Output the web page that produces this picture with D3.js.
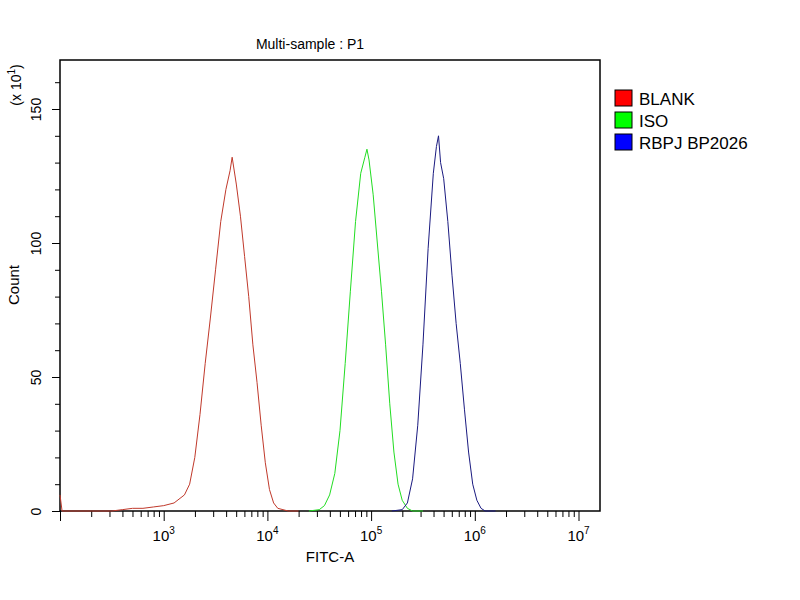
<!DOCTYPE html><html><head><script src="https://cdn.jsdelivr.net/npm/d3@7"></script>
<style>body{margin:0;background:#fff}text{font-family:"Liberation Sans",Arial,sans-serif;fill:#000}</style></head><body><svg id="c" width="800" height="600"></svg>
<script>
const seriesNames=["BLANK","ISO","RBPJ BP2026"];
const colors=["#c0392b","#22dd22","#1a1a80"];
const legendColors=["#ff0000","#00ff00","#0000ff"];
const blankLogX=[2.0,2.02,2.5,2.6,2.7,2.8,2.9,3.0,3.1,3.2,3.25,3.3,3.35,3.4,3.45,3.5,3.55,3.6,3.64,3.66,3.7,3.74,3.78,3.82,3.86,3.9,3.94,3.98,4.02,4.06,4.1,4.15,4.2,4.3];
const blankY=[6,0,0,0.5,1,1,1.5,2,3,6,10,20,36,55,72,90,108,120,127,132,122,110,95,80,62,48,32,18,8,3,1,0.5,0,0];
const isoLogX=[4.4,4.5,4.55,4.6,4.65,4.7,4.75,4.8,4.85,4.9,4.94,4.96,4.98,5.02,5.06,5.1,5.14,5.18,5.22,5.26,5.3,5.35,5.4,5.5];
const isoY=[0,0.5,2,6,14,30,55,82,108,126,132,135,131,118,100,82,62,40,22,10,4,1,0,0];
const rbpjLogX=[5.2,5.3,5.35,5.4,5.45,5.5,5.55,5.6,5.63,5.65,5.67,5.7,5.74,5.78,5.82,5.86,5.9,5.94,5.98,6.02,6.06,6.1,6.2];
const rbpjY=[0,0.5,3,12,32,62,98,126,136,140,130,124,108,88,70,55,38,22,10,4,1,0,0];
const yTicks=[0,50,100,150];
const xTicks=[3,4,5,6,7];

const svg=d3.select("#c");
const L=60,R=600,T=60,B=511;
const x=d3.scaleLog().domain([100,Math.pow(10,2+(R-L)/103.7)]).range([L,R]);
const y=d3.scaleLinear().domain([0,(B-T)/2.68]).range([B,T]);
const g=svg.append("g");
g.append("rect").attr("x",L).attr("y",T).attr("width",R-L).attr("height",B-T).attr("fill","none").attr("stroke","#000").attr("stroke-width",1.5);
// y axis
const ya=d3.axisLeft(y).tickValues(d3.range(0,170,10)).tickSize(5).tickFormat(d=>yTicks.includes(d)?d:"");
const yg=g.append("g").attr("transform",`translate(${L},0)`).call(ya);
yg.select(".domain").remove();
yg.selectAll(".tick line").attr("x2",d=>yTicks.includes(d)?-8:-5);
yg.selectAll(".tick text").attr("transform",function(d){return `rotate(-90,-14,0)`}).attr("x",-14).attr("dy","0.35em").attr("dx",0).attr("text-anchor","middle").attr("y",-2).style("font-size","14px");
yg.selectAll(".tick text").attr("transform",null).each(function(d){d3.select(this).attr("x",null).attr("y",null).attr("dy",null).attr("transform",`translate(-19,${0}) rotate(-90)`);});
// x axis
const minor=[];for(let e=2;e<7.3;e++)for(let k=1;k<10;k++){const v=k*Math.pow(10,e);if(v>=100&&v<=x.domain()[1])minor.push(v);}
const xa=d3.axisBottom(x).tickValues(minor).tickSize(6).tickFormat("");
const xg=g.append("g").attr("transform",`translate(0,${B})`).call(xa);
xg.select(".domain").remove();
xg.selectAll(".tick line").attr("y2",d=>Math.abs(Math.log10(d)-Math.round(Math.log10(d)))<1e-9?10:6);
xTicks.forEach(e=>{const t=g.append("text").attr("x",x(Math.pow(10,e))).attr("y",B+30).attr("text-anchor","middle").style("font-size","15px");
t.append("tspan").text("10");t.append("tspan").attr("dy",-7).style("font-size","10px").text(e);});
// curves
const line=d3.line().x(d=>x(Math.pow(10,d[0]))).y(d=>y(d[1])).curve(d3.curveLinear);
[[blankLogX,blankY],[isoLogX,isoY],[rbpjLogX,rbpjY]].forEach((s,i)=>{
 g.append("path").datum(s[0].map((v,j)=>[v,s[1][j]])).attr("d",line).attr("fill","none").attr("stroke",colors[i]).attr("stroke-width",1);
});
// texts
svg.append("text").attr("x",310).attr("y",49).attr("text-anchor","middle").style("font-size","14px").text("Multi-sample : P1");
svg.append("text").attr("x",330).attr("y",562).attr("text-anchor","middle").style("font-size","15px").text("FITC-A");
svg.append("text").attr("transform","translate(19,285) rotate(-90)").attr("text-anchor","middle").style("font-size","15px").text("Count");
const u=svg.append("text").attr("transform","translate(21,85) rotate(-90)").attr("text-anchor","middle").style("font-size","14px");
u.append("tspan").text("(x 10");u.append("tspan").attr("dy",-6).style("font-size","10px").text("1");u.append("tspan").attr("dy",6).text(")");
// legend
seriesNames.forEach((n,i)=>{
 svg.append("rect").attr("x",615).attr("y",90+i*22).attr("width",17).attr("height",16).attr("fill",legendColors[i]).attr("stroke","#000");
 svg.append("text").attr("x",639).attr("y",105+i*22).style("font-size","17px").text(n);
});
</script></body></html>
